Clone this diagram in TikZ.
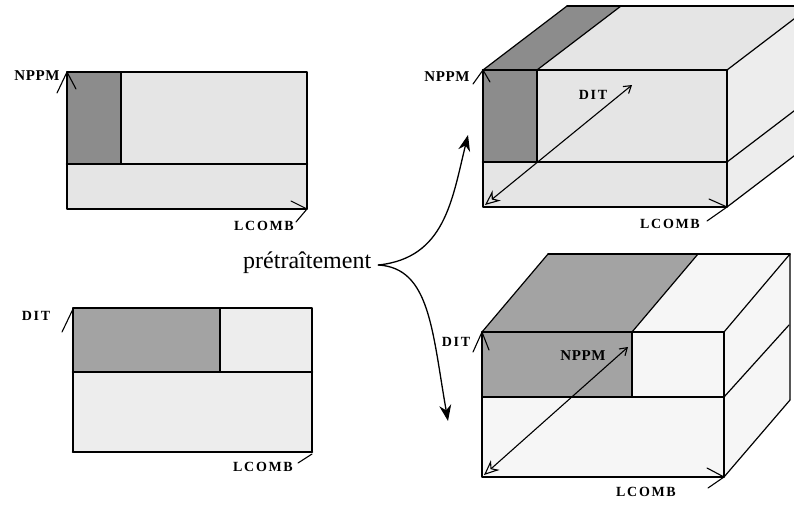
\documentclass[tikz,border=0pt]{standalone}
\usepackage{fontspec}
\setmainfont{Liberation Serif}
\newfontfamily\lblfont{Liberation Serif}[LetterSpace=12]
\newfontfamily\npfont{Liberation Serif}[LetterSpace=4]
\usetikzlibrary{arrows.meta}
\definecolor{lgray}{gray}{0.90}
\definecolor{llgray}{gray}{0.93}
\definecolor{wgray}{gray}{0.965}
\definecolor{dgray}{gray}{0.55}
\definecolor{mgray}{gray}{0.64}
\tikzset{
  frame/.style={line width=1.8pt},
  thin edge/.style={line width=1.2pt},
  mid edge/.style={line width=1.5pt},
  heavy/.style={line width=2.6pt},
  lbl/.style={font=\lblfont\bfseries\fontsize{14}{14}\selectfont, inner sep=0pt},
  nlbl/.style={font=\npfont\bfseries\fontsize{15}{15}\selectfont, inner sep=0pt},
  barb/.style={line width=1.1pt},
  curvearrow/.style={line width=1.3pt, -{Stealth[length=16pt,width=12pt]}},
  diag/.style={line width=1.1pt, {Stealth[open,length=15pt,width=13pt]}-{Straight Barb[length=7pt,width=9pt]}}
}
\begin{document}
\begin{tikzpicture}[x=1pt,y=-1pt,line join=round,line cap=round]
\useasboundingbox (0,0) rectangle (794,506);
\clip (0,0) rectangle (794,506);

% ---------- top-left rectangle ----------
\fill[lgray] (67,72) rectangle (307,209);
\fill[dgray] (67,72) rectangle (121,164);
\draw[mid edge] (121,72) -- (121,164);
\draw[heavy] (67,164) -- (307,164);
\draw[frame] (67,72) rectangle (307,209);
\node[nlbl] (npA) at (37,76) {NPPM};
\coordinate (cA) at (67,72);
\draw[barb] (57,93) -- (cA) -- (76,89);
\node[lbl] (lcA) at (264,226) {LCOMB};
\coordinate (rA) at (307,209);
\draw[barb] (291,201) -- (rA) -- (296,222);

% ---------- bottom-left rectangle ----------
\fill[llgray] (73,308) rectangle (312,452);
\fill[mgray] (73,308) rectangle (220,372);
\draw[mid edge] (220,308) -- (220,372);
\draw[heavy] (73,372) -- (312,372);
\draw[frame] (73,308) rectangle (312,452);
\draw[heavy] (73,452) -- (312,452);
\node[lbl] (ditB) at (36,316) {DIT};
\coordinate (cB) at (73,309);
\draw[barb] (62,332) -- (cB);
\node[lbl] (lcB) at (263,467) {LCOMB};
\coordinate (rB) at (312,454);
\draw[barb] (298,463) -- (rB);

% ---------- top-right cube ----------
\coordinate (A) at (483,70);
\coordinate (B) at (727,70);
\coordinate (C) at (727,207);
\coordinate (D) at (483,207);
\coordinate (Av) at (567,6);
\coordinate (Bv) at (811,6);
\coordinate (Cv) at (811,143);
\fill[lgray] (A) -- (B) -- (Bv) -- (Av) -- cycle;
\fill[dgray] (A) -- (537,70) -- (621,6) -- (Av) -- cycle;
\fill[llgray] (B) -- (Bv) -- (Cv) -- (C) -- cycle;
\fill[lgray] (A) rectangle (C);
\fill[dgray] (A) rectangle (537,162);
\draw[thin edge] (A) -- (Av);
\draw[thin edge] (537,70) -- (621,6);
\draw[frame] (Av) -- (Bv);
\draw[thin edge] (B) -- (Bv);
\draw[thin edge] (727,162) -- (811,98);
\draw[thin edge] (C) -- (Cv);
\draw[mid edge] (537,70) -- (537,162);
\draw[heavy] (A) -- (B);
\draw[frame] (A) rectangle (C);
\draw[heavy] (483,162) -- (727,162);
\coordinate (tDIT) at (632,85);
\draw[diag] (485,205) -- (tDIT);
\node[lbl] (ditC) at (593,95) {DIT};
\node[nlbl] (npC) at (447,77) {NPPM};
\draw[barb] (473,84) -- (A) -- (490,82);
\node[lbl] (lcC) at (670,224) {LCOMB};
\draw[barb] (709,199) -- (C) -- (707,221);

% ---------- bottom-right cube ----------
\coordinate (A2) at (482,332);
\coordinate (B2) at (724,332);
\coordinate (C2) at (724,477);
\coordinate (D2) at (482,477);
\coordinate (A2v) at (548,254);
\coordinate (B2v) at (790,254);
\coordinate (C2v) at (790,400);
\fill[wgray] (A2) -- (B2) -- (B2v) -- (A2v) -- cycle;
\fill[mgray] (A2) -- (632,332) -- (698,254) -- (A2v) -- cycle;
\fill[wgray] (B2) -- (B2v) -- (C2v) -- (C2) -- cycle;
\fill[wgray] (A2) rectangle (C2);
\fill[mgray] (A2) rectangle (632,397);
\draw[thin edge] (A2) -- (A2v);
\draw[thin edge] (632,332) -- (698,254);
\draw[mid edge] (A2v) -- (B2v);
\draw[thin edge] (B2) -- (B2v) -- (C2v);
\draw[thin edge] (724,397) -- (789,325);
\draw[thin edge] (C2) -- (C2v);
\draw[thin edge] (632,332) -- (632,397);
\draw[thin edge] (482,397) -- (724,397);
\draw[mid edge] (A2) rectangle (C2);
\draw[diag] (484,475) -- (628,347);
\node[lbl] (ditD) at (456,342) {DIT};
\node[nlbl] (npD) at (583,356) {NPPM};
\draw[barb] (473,352) -- (A2) -- (489,350);
\node[lbl] (lcD) at (646,492) {LCOMB};
\draw[barb] (707,468) -- (C2) -- (708,488);

% ---------- pretraitement and curved arrows ----------
\node[font=\fontsize{24}{24}\selectfont, inner sep=0pt, anchor=base west] (pre) at (243,268) {prétraîtement};
\coordinate (fork) at ([xshift=7pt,yshift=3pt]pre.base east);
\coordinate (up) at (468,135);
\coordinate (down) at (448,421);
\draw[curvearrow] (fork) .. controls (445,258) and (452,200) .. (up);
\draw[curvearrow] (fork) .. controls (430,268) and (432,330) .. (down);
\end{tikzpicture}
\end{document}
